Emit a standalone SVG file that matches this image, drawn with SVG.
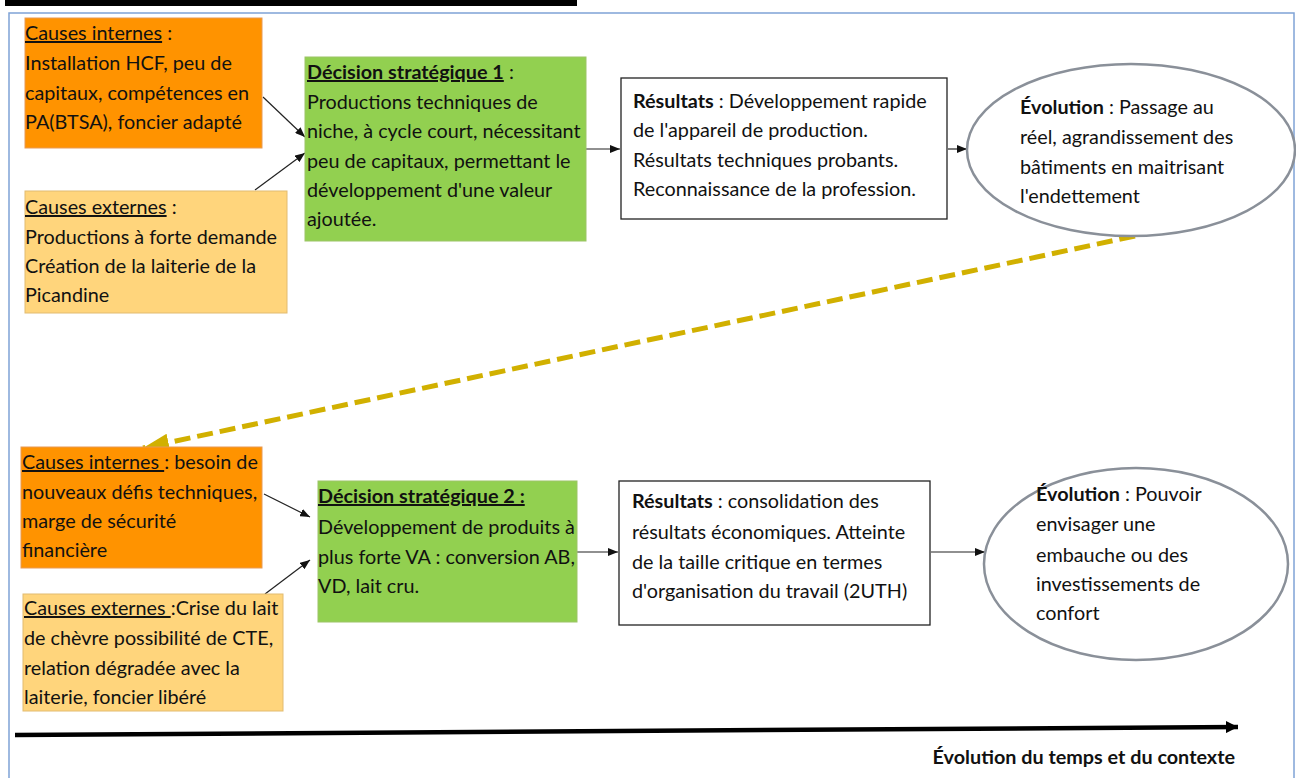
<svg xmlns="http://www.w3.org/2000/svg" width="1296" height="778" viewBox="0 0 1296 778">
<defs>
<style>
text{font-family:Lato,"Open Sans","Liberation Sans",sans-serif;font-size:19.8px;fill:#111}
.b{font-weight:bold}
.u{text-decoration:underline}
.conn{stroke:#222;stroke-width:1.2;fill:none}
.orange{fill:#FF9300;stroke:#E89A55;stroke-width:1}
.lorange{fill:#FFD57C;stroke:#E2BB70;stroke-width:1}
.green{fill:#92D050;stroke:#9CC466;stroke-width:1}
.white{fill:#fff;stroke:#222;stroke-width:1.3}
.ell{fill:#fff;stroke:#8A9099;stroke-width:2.5}
</style>
<marker id="ah" viewBox="0 0 10 8" refX="10" refY="4" markerWidth="10" markerHeight="8" markerUnits="userSpaceOnUse" orient="auto"><path d="M0,0 L10,4 L0,8 z" fill="#111"/></marker>
<marker id="ahy" viewBox="0 0 26 18" refX="26" refY="9" markerWidth="26" markerHeight="18" markerUnits="userSpaceOnUse" orient="auto"><path d="M0,0 L26,9 L0,18 z" fill="#D1B000"/></marker>
<marker id="ahk" viewBox="0 0 12 12" refX="12" refY="6" markerWidth="12" markerHeight="12" markerUnits="userSpaceOnUse" orient="auto"><path d="M0,0 L12,6 L0,12 z" fill="#000"/></marker>
</defs>
<rect width="1296" height="778" fill="#fff"/>
<rect x="5" y="0" width="572" height="6" fill="#000"/>
<rect x="9" y="13" width="1285" height="800" fill="none" stroke="#7FA3D6" stroke-width="1.5"/>

<g id="connectors">
<line class="conn" x1="263" y1="97" x2="305" y2="137" marker-end="url(#ah)"/>
<line class="conn" x1="255" y1="190" x2="305" y2="153" marker-end="url(#ah)"/>
<line class="conn" x1="586" y1="149" x2="620" y2="149" marker-end="url(#ah)"/>
<line class="conn" x1="948" y1="149" x2="967" y2="149" marker-end="url(#ah)"/>
<line x1="1135" y1="236" x2="143" y2="448" stroke="#D1B000" stroke-width="5" stroke-dasharray="16 7" marker-end="url(#ahy)"/>
<line class="conn" x1="264" y1="494" x2="310" y2="517" marker-end="url(#ah)"/>
<line class="conn" x1="265" y1="594" x2="310" y2="560" marker-end="url(#ah)"/>
<line class="conn" x1="577" y1="552" x2="618" y2="552" marker-end="url(#ah)"/>
<line class="conn" x1="931" y1="552" x2="985" y2="552" marker-end="url(#ah)"/>
<line x1="15" y1="735" x2="1238" y2="727" stroke="#000" stroke-width="4.5" marker-end="url(#ahk)"/>
</g>

<g id="causes-internes-1">
<rect class="orange" x="25" y="18" width="237" height="130"/>
<text x="25" y="40"><tspan class="u">Causes internes</tspan> :</text>
<text x="25" y="70">Installation HCF, peu de</text>
<text x="25" y="100">capitaux, compétences en</text>
<text x="25" y="129">PA(BTSA), foncier adapté</text>
</g>

<g id="causes-externes-1">
<rect class="lorange" x="25" y="191" width="262" height="122"/>
<text x="25" y="214"><tspan class="u">Causes externes</tspan> :</text>
<text x="25" y="244">Productions à forte demande</text>
<text x="25" y="273">Création de la laiterie de la</text>
<text x="25" y="302">Picandine</text>
</g>

<g id="decision-1">
<rect class="green" x="305" y="57" width="281" height="184"/>
<text x="307" y="79"><tspan class="b u">Décision stratégique 1</tspan> :</text>
<text x="307" y="109">Productions techniques de</text>
<text x="307" y="138">niche, à cycle court, nécessitant</text>
<text x="307" y="168">peu de capitaux, permettant le</text>
<text x="307" y="197">développement d'une valeur</text>
<text x="307" y="226">ajoutée.</text>
</g>

<g id="resultats-1">
<rect class="white" x="621" y="78" width="326" height="141"/>
<text x="633" y="108"><tspan class="b">Résultats</tspan> : Développement rapide</text>
<text x="633" y="137">de l'appareil de production.</text>
<text x="633" y="167">Résultats techniques probants.</text>
<text x="633" y="196">Reconnaissance de la profession.</text>
</g>

<g id="evolution-1">
<ellipse class="ell" cx="1131" cy="150" rx="164" ry="86"/>
<text x="1020" y="114"><tspan class="b">Évolution</tspan> : Passage au</text>
<text x="1020" y="144">réel, agrandissement des</text>
<text x="1020" y="174">bâtiments en maitrisant</text>
<text x="1020" y="203">l'endettement</text>
</g>

<g id="causes-internes-2">
<rect class="orange" x="21" y="447" width="241" height="121"/>
<text x="22" y="469"><tspan class="u">Causes internes </tspan>: besoin de</text>
<text x="22" y="499">nouveaux défis techniques,</text>
<text x="22" y="528">marge de sécurité</text>
<text x="22" y="557">financière</text>
</g>

<g id="causes-externes-2">
<rect class="lorange" x="23" y="594" width="260" height="117"/>
<text x="24" y="615"><tspan class="u">Causes externes </tspan>:Crise du lait</text>
<text x="24" y="645">de chèvre possibilité de CTE,</text>
<text x="24" y="675">relation dégradée avec la</text>
<text x="24" y="704">laiterie, foncier libéré</text>
</g>

<g id="decision-2">
<rect class="green" x="318" y="481" width="259" height="141"/>
<text x="318" y="503" class="b u">Décision stratégique 2 :</text>
<text x="318" y="534">Développement de produits à</text>
<text x="318" y="564">plus forte VA : conversion AB,</text>
<text x="318" y="593">VD, lait cru.</text>
</g>

<g id="resultats-2">
<rect class="white" x="619" y="481" width="311" height="144"/>
<text x="632" y="508"><tspan class="b">Résultats</tspan> : consolidation des</text>
<text x="632" y="539">résultats économiques. Atteinte</text>
<text x="632" y="569">de la taille critique en termes</text>
<text x="632" y="598">d'organisation du travail (2UTH)</text>
</g>

<g id="evolution-2">
<ellipse class="ell" cx="1136" cy="564" rx="152" ry="96"/>
<text x="1036" y="501"><tspan class="b">Évolution</tspan> : Pouvoir</text>
<text x="1036" y="531">envisager une</text>
<text x="1036" y="562">embauche ou des</text>
<text x="1036" y="591">investissements de</text>
<text x="1036" y="620">confort</text>
</g>

<g id="axis-label">
<text x="1235" y="764" text-anchor="end" class="b">Évolution du temps et du contexte</text>
</g>
</svg>
